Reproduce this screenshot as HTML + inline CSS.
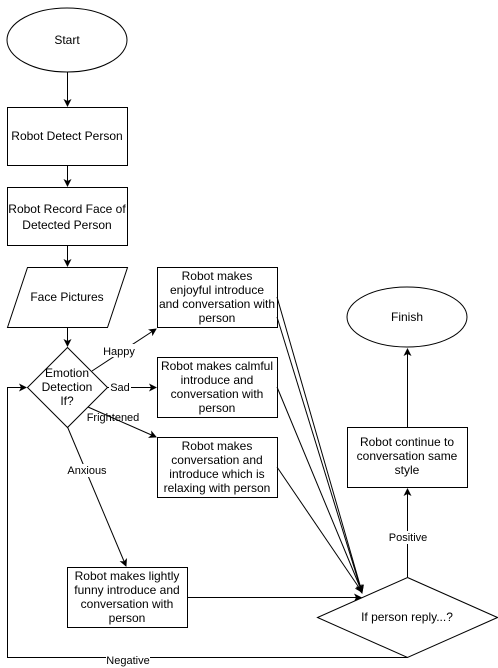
<!DOCTYPE html>
<html><head><style>body{margin:0;background:#fff}svg{display:block}text{font-family:"Liberation Sans",sans-serif;font-size:12px;fill:#000}</style></head><body>
<svg width="498" height="668" viewBox="0 0 498 668">
<defs><marker id="a" markerWidth="8" markerHeight="8" refX="7" refY="4" orient="auto" markerUnits="userSpaceOnUse"><path d="M0,0 L8,4 L0,8 L2,4 Z" fill="#000"/></marker></defs>
<g fill="#fff" stroke="#000" stroke-width="1">
<ellipse cx="67" cy="40" rx="60" ry="32"/>
<rect x="7.5" y="107.5" width="120" height="58"/>
<rect x="7.5" y="187.5" width="120" height="58"/>
<polygon points="27.5,267.5 127.5,267.5 107.5,327.5 7.5,327.5"/>
<polygon points="67.5,347.5 107.5,387.5 67.5,427.5 27.5,387.5"/>
<rect x="157.5" y="267.5" width="120" height="60"/>
<rect x="157.5" y="357.5" width="120" height="60"/>
<rect x="157.5" y="437.5" width="120" height="60"/>
<rect x="67.5" y="567.5" width="120" height="60"/>
<polygon points="407.5,577.5 497.5,617.5 407.5,657.5 317.5,617.5"/>
<ellipse cx="407" cy="317" rx="60" ry="30"/>
<rect x="347.5" y="427.5" width="120" height="60"/>
</g>
<g stroke="#000" fill="none" stroke-width="1">
<line x1="67.5" y1="72" x2="67.5" y2="106" marker-end="url(#a)"/>
<line x1="67.5" y1="166" x2="67.5" y2="186" marker-end="url(#a)"/>
<line x1="67.5" y1="246" x2="67.5" y2="266" marker-end="url(#a)"/>
<line x1="67.5" y1="328" x2="67.5" y2="346" marker-end="url(#a)"/>
<line x1="92" y1="371" x2="156" y2="329" marker-end="url(#a)"/>
<line x1="107" y1="387.5" x2="156" y2="387.5" marker-end="url(#a)"/>
<line x1="88" y1="407" x2="156" y2="437" marker-end="url(#a)"/>
<line x1="67.5" y1="427" x2="126" y2="566" marker-end="url(#a)"/>
<line x1="188" y1="597.5" x2="361" y2="597.5" marker-end="url(#a)"/>
<line x1="277" y1="297" x2="362" y2="592" marker-end="url(#a)"/>
<line x1="277" y1="387" x2="362" y2="592" marker-end="url(#a)"/>
<line x1="277" y1="467" x2="362" y2="592" marker-end="url(#a)"/>
<line x1="277" y1="317" x2="362" y2="593" marker-end="url(#a)"/>
<line x1="407.5" y1="577" x2="407.5" y2="489" marker-end="url(#a)"/>
<line x1="407.5" y1="427" x2="407.5" y2="349" marker-end="url(#a)"/>
<polyline points="407.5,657.5 7.5,657.5 7.5,387.5 26,387.5" marker-end="url(#a)"/>
</g>
<g text-anchor="middle">
<text x="67" y="44">Start</text>
<text x="67" y="140">Robot Detect Person</text>
<text x="67" y="213">Robot Record Face of</text><text x="67" y="229">Detected Person</text>
<text x="67" y="301">Face Pictures</text>
<text x="67" y="377">Emotion</text><text x="67" y="391">Detection</text><text x="67" y="405">If?</text>
<text x="217" y="280">Robot makes</text><text x="217" y="294">enjoyful  introduce</text><text x="217" y="308">and conversation with</text><text x="217" y="322">person</text>
<text x="217" y="370">Robot makes calmful</text><text x="217" y="384">introduce and</text><text x="217" y="398">conversation with</text><text x="217" y="412">person</text>
<text x="217" y="450">Robot makes</text><text x="217" y="464">conversation and</text><text x="217" y="478">introduce which is</text><text x="217" y="492">relaxing with person</text>
<text x="127" y="580">Robot makes lightly</text><text x="127" y="594">funny introduce and</text><text x="127" y="608">conversation with</text><text x="127" y="622">person</text>
<text x="407" y="621">If person reply...?</text>
<text x="407" y="321">Finish</text>
<text x="407" y="446">Robot continue to</text><text x="407" y="460">conversation same</text><text x="407" y="474">style</text>
</g>
<g text-anchor="middle">
<rect x="100" y="344" width="38" height="13" fill="#fff"/><text x="119" y="355" style="font-size:11px">Happy</text>
<rect x="109" y="381" width="22" height="12" fill="#fff"/><text x="120" y="391" style="font-size:11px">Sad</text>
<text x="113" y="421" style="font-size:11px">Frightened</text>
<rect x="66" y="464" width="42" height="13" fill="#fff"/><text x="87" y="474" style="font-size:11px">Anxious</text>
<rect x="390" y="531" width="36" height="13" fill="#fff"/><text x="408" y="541" style="font-size:11px">Positive</text>
<rect x="106" y="654" width="44" height="12" fill="#fff"/><text x="128" y="664" style="font-size:11px">Negative</text>
</g>
</svg>
</body></html>
